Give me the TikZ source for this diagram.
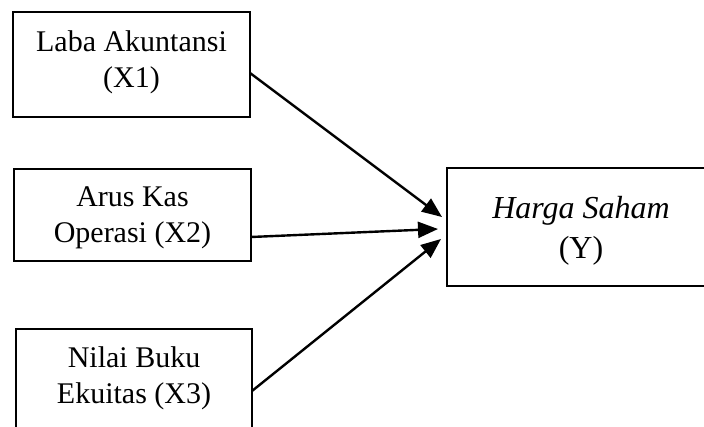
\documentclass[tikz,border=0pt]{standalone}
\usepackage{fontspec}
\setmainfont{Liberation Serif}
\usetikzlibrary{arrows.meta}
\begin{document}
\begin{tikzpicture}[x=1pt,y=-1pt,
  box/.style={draw, line width=1.8pt, inner sep=0pt, outer sep=0pt, align=center},
  lbl/.style={font=\fontsize{30}{36}\selectfont},
  ylbl/.style={font=\fontsize{32}{40}\selectfont},
  arr/.style={-{Triangle[length=20pt,width=16pt]}, line width=2.4pt}]
\useasboundingbox (0,0) rectangle (704,427);
\clip (0,0) rectangle (704,427);
\node[box, lbl, minimum width=237pt, minimum height=105pt] (x1) at (131.5,64.5) {Laba Akuntansi\\(X1)\rule[-11pt]{0pt}{11pt}};
\node[box, lbl, minimum width=237pt, minimum height=92pt] (x2) at (132.5,215) {\rule{0pt}{25.3pt}Arus Kas\\Operasi (X2)};
\node[box, lbl, minimum width=236pt, minimum height=99pt] (x3) at (134,378.5) {Nilai Buku\\Ekuitas (X3)};
\node[box, ylbl, minimum width=268pt, minimum height=118pt] (y) at (581,227) {\rule{0pt}{28.9pt}\textit{Harga Saham}\\(Y)};
\draw[arr] ([yshift=-8.5pt]x1.east) -- ([xshift=-5pt,yshift=10pt]y.west);
\draw[arr] ([yshift=-22pt]x2.east) -- ([xshift=-9pt,yshift=-2pt]y.west);
\draw[arr] ([yshift=-12.5pt]x3.east) -- ([xshift=-6pt,yshift=-12pt]y.west);
\end{tikzpicture}
\end{document}
